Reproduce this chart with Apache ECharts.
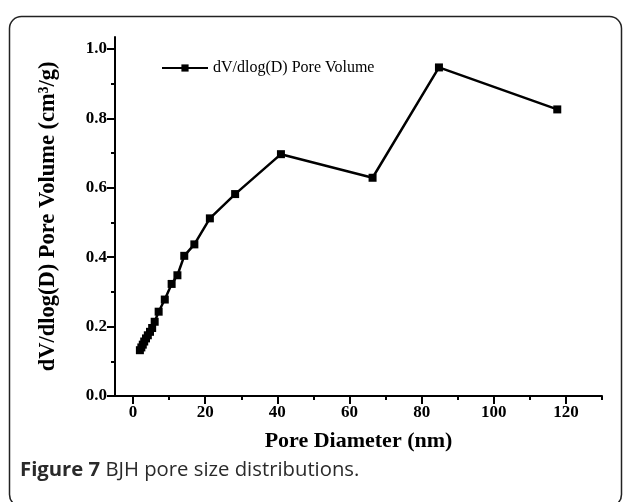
<!DOCTYPE html>
<html>
<head>
<meta charset="utf-8">
<script src="https://cdn.jsdelivr.net/npm/echarts@6/dist/echarts.min.js"></script>
<style>
html,body{margin:0;padding:0;background:#fff;}
#c{width:627px;height:502px;}
</style>
</head>
<body>
<div id="c"></div>
<script>
const poreDiameter = [1.9, 2.3, 2.7, 3.1, 3.6, 4.1, 4.7, 5.3, 6.0, 7.1, 8.8, 10.7, 12.3, 14.2, 17.0, 21.3, 28.3, 41.0, 66.4, 84.8, 117.6];
const poreVolume   = [0.132, 0.140, 0.148, 0.157, 0.166, 0.175, 0.185, 0.196, 0.214, 0.243, 0.278, 0.323, 0.348, 0.404, 0.437, 0.512, 0.582, 0.697, 0.629, 0.947, 0.826];
const xMajorTicks = [0, 20, 40, 60, 80, 100, 120];
const xMinorTicks = [10, 30, 50, 70, 90, 110, 130];
const yMajorTicks = [0, 0.2, 0.4, 0.6, 0.8, 1.0];
const yMinorTicks = [0.1, 0.3, 0.5, 0.7, 0.9];
const seriesName = 'dV/dlog(D) Pore Volume';

const serif = '"Liberation Serif", "Times New Roman", serif';
const chart = echarts.init(document.getElementById('c'));
const axisLineStyle = {color: '#000', width: 2};
chart.setOption({
  animation: false,
  backgroundColor: '#fff',
  grid: {left: 115, right: 25, top: 36.9, bottom: 106, containLabel: false},
  legend: {
    left: 156, top: 55, itemWidth: 46, itemHeight: 9, itemGap: 2,
    textStyle: {fontFamily: serif, fontSize: 16, color: '#000'},
    data: [seriesName]
  },
  xAxis: [{
    type: 'value', min: -5, max: 130, position: 'bottom',
    name: 'Pore Diameter (nm)', nameLocation: 'middle', nameGap: 34,
    nameTextStyle: {fontFamily: serif, fontSize: 22, fontWeight: 'bold', color: '#000'},
    axisLine: {show: true, onZero: false, lineStyle: axisLineStyle},
    axisTick: {show: true, inside: false, length: 8, customValues: xMajorTicks, lineStyle: {color: '#000', width: 2}},
    axisLabel: {customValues: xMajorTicks, margin: 8, fontFamily: serif, fontSize: 17, fontWeight: 'bold', color: '#000'},
    splitLine: {show: false}
  }, {
    type: 'value', min: -5, max: 130, position: 'bottom', gridIndex: 0,
    axisLine: {show: false, onZero: false},
    axisTick: {show: true, inside: false, length: 4, customValues: xMinorTicks, lineStyle: {color: '#000', width: 2}},
    axisLabel: {show: false},
    splitLine: {show: false}
  }],
  yAxis: [{
    type: 'value', min: 0, max: 1.035, position: 'left',
    name: 'dV/dlog(D) Pore Volume (cm³/g)', nameLocation: 'middle', nameGap: 55,
    nameTextStyle: {fontFamily: serif, fontSize: 22.5, fontWeight: 'bold', color: '#000'},
    axisLine: {show: true, onZero: false, lineStyle: axisLineStyle},
    axisTick: {show: true, inside: false, length: 8, customValues: yMajorTicks, lineStyle: {color: '#000', width: 2}},
    axisLabel: {customValues: yMajorTicks, margin: 8, fontFamily: serif, fontSize: 17, fontWeight: 'bold', color: '#000',
      formatter: v => v.toFixed(1)},
    splitLine: {show: false}
  }, {
    type: 'value', min: 0, max: 1.035, position: 'left', gridIndex: 0,
    axisLine: {show: false, onZero: false},
    axisTick: {show: true, inside: false, length: 4, customValues: yMinorTicks, lineStyle: {color: '#000', width: 2}},
    axisLabel: {show: false},
    splitLine: {show: false}
  }],
  series: [{
    name: seriesName, type: 'line', xAxisIndex: 0, yAxisIndex: 0,
    data: poreDiameter.map((x, i) => [x, poreVolume[i]]),
    symbol: 'rect', symbolSize: 8,
    lineStyle: {color: '#000', width: 2.5},
    itemStyle: {color: '#000'},
    emphasis: {disabled: true}
  }],
  graphic: [{
    type: 'rect', shape: {x: 9.5, y: 16.5, width: 612, height: 490, r: 12},
    style: {fill: 'none', stroke: '#222', lineWidth: 1.5}, silent: true
  }, {
    type: 'text', left: 20, top: 460,
    style: {
      text: '{b|Figure 7} BJH pore size distributions.',
      fontFamily: '"Open Sans", "Noto Sans", sans-serif', fontSize: 20.3, fill: '#2a2a2a',
      rich: {b: {fontFamily: '"Open Sans", "Noto Sans", sans-serif', fontSize: 20.3, fontWeight: 'bold', fill: '#2a2a2a'}}
    }
  }]
});
</script>
</body>
</html>
